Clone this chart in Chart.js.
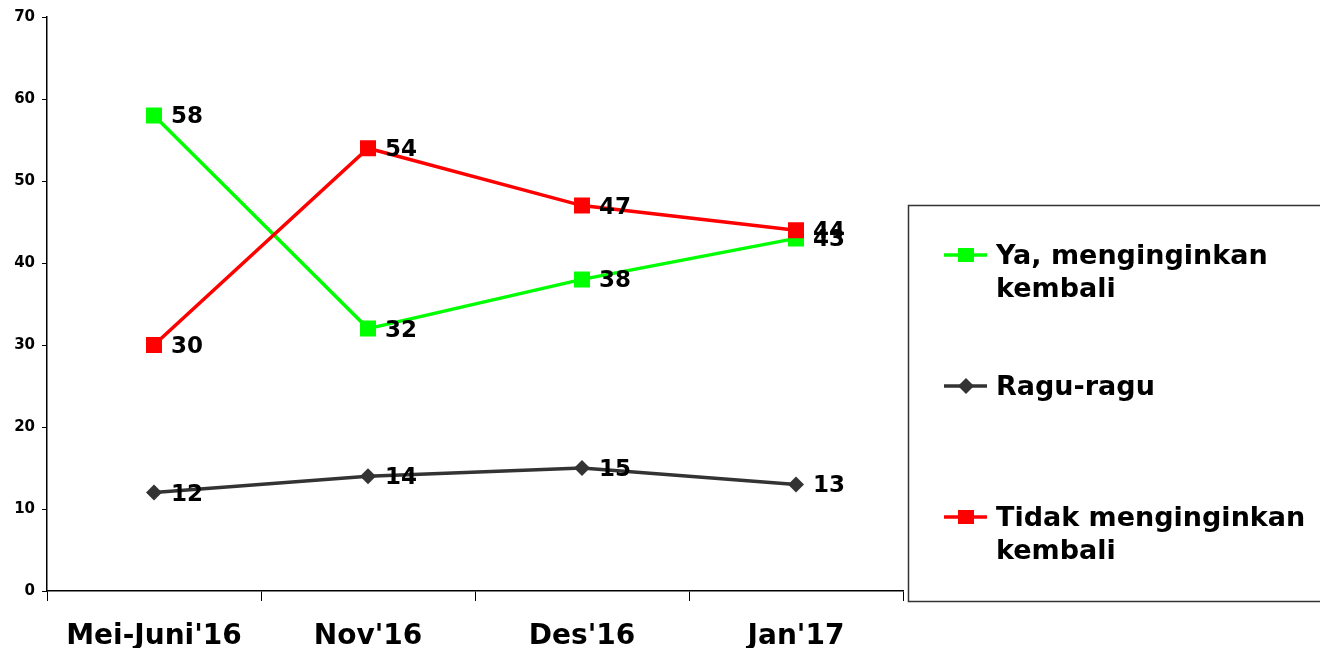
<!DOCTYPE html>
<html>
<head>
<meta charset="utf-8">
<script src="https://cdn.jsdelivr.net/npm/chart.js@4.4.1/dist/chart.umd.min.js"></script>
<style>
  html, body { margin: 0; padding: 0; background: #ffffff; }
  #wrap { width: 1320px; height: 648px; position: relative; }
</style>
</head>
<body>
<div id="wrap"><canvas id="c"></canvas></div>
<script>
// Survey periods and responses (percent)
const periods = ["Mei-Juni'16", "Nov'16", "Des'16", "Jan'17"];
const yaValues = [58, 32, 38, 43];
const raguValues = [12, 14, 15, 13];
const tidakValues = [30, 54, 47, 44];
const yTicks = [0, 10, 20, 30, 40, 50, 60, 70];

const seriesNames = [["Ya, menginginkan", "kembali"], ["Ragu-ragu"], ["Tidak menginginkan", "kembali"]];
const seriesColors = ["#00ff00", "#333333", "#ff0000"];

const FONT = "'DejaVu Sans', Verdana, sans-serif";

// Value labels to the right of each point
const valueLabels = {
  id: 'valueLabels',
  afterDatasetsDraw(chart) {
    const ctx = chart.ctx;
    ctx.save();
    ctx.font = "bold 23px " + FONT;
    ctx.fillStyle = "#000000";
    ctx.textAlign = "left";
    ctx.textBaseline = "middle";
    chart.data.datasets.forEach((ds, i) => {
      const meta = chart.getDatasetMeta(i);
      meta.data.forEach((pt, j) => {
        ctx.fillText(String(ds.data[j]), pt.x + 17, pt.y + 2);
      });
    });
    ctx.restore();
  }
};

// Boxed legend on the right side
const boxLegend = {
  id: 'boxLegend',
  afterDraw(chart) {
    const ctx = chart.ctx;
    ctx.save();
    ctx.strokeStyle = "#333333";
    ctx.lineWidth = 1.5;
    ctx.strokeRect(908.5, 205.5, 430, 396);
    const rows = [255, 386, 517];
    ctx.font = "bold 27px " + FONT;
    ctx.textAlign = "left";
    ctx.textBaseline = "middle";
    seriesNames.forEach((lines, i) => {
      const y = rows[i];
      const col = seriesColors[i];
      ctx.strokeStyle = col;
      ctx.lineWidth = 3.5;
      ctx.beginPath();
      ctx.moveTo(944, y);
      ctx.lineTo(987, y);
      ctx.stroke();
      ctx.fillStyle = col;
      if (i === 1) {
        ctx.beginPath();
        ctx.moveTo(966, y - 8);
        ctx.lineTo(974, y);
        ctx.lineTo(966, y + 8);
        ctx.lineTo(958, y);
        ctx.closePath();
        ctx.fill();
      } else {
        ctx.fillRect(958, y - 7, 16, 14);
      }
      ctx.fillStyle = "#000000";
      lines.forEach((t, k) => {
        ctx.fillText(t, 996, y + 2 + k * 33);
      });
    });
    ctx.restore();
  }
};

const mkDataset = (label, data, color, style, radius) => ({
  label: label,
  data: data,
  borderColor: color,
  backgroundColor: color,
  borderWidth: 3.5,
  pointStyle: style,
  pointRadius: radius,
  pointHoverRadius: radius,
  pointBorderWidth: 0,
  pointBackgroundColor: color,
  tension: 0,
  fill: false
});

new Chart(document.getElementById('c'), {
  type: 'line',
  data: {
    labels: periods,
    datasets: [
      mkDataset(seriesNames[2].join(' '), tidakValues, seriesColors[2], 'rect', 11.3),
      mkDataset(seriesNames[0].join(' '), yaValues, seriesColors[0], 'rect', 11.3),
      mkDataset(seriesNames[1].join(' '), raguValues, seriesColors[1], 'rectRot', 8)
    ]
  },
  options: {
    responsive: true,
    maintainAspectRatio: false,
    animation: false,
    layout: { padding: { top: 17, right: 417, left: 0, bottom: 0 } },
    plugins: {
      legend: { display: false },
      tooltip: { enabled: false }
    },
    scales: {
      x: {
        offset: true,
        grid: { display: true, drawOnChartArea: false, drawTicks: true, tickLength: 10, color: "#000000", offset: true },
        border: { display: true, color: "#000000", width: 1.5 },
        ticks: {
          color: "#000000",
          font: { family: FONT, size: 28, weight: 'bold' },
          padding: 19,
          maxRotation: 0
        },
        afterFit(scale) { scale.height = 57; }
      },
      y: {
        min: 0,
        max: 70,
        afterBuildTicks(scale) { scale.ticks = yTicks.map(v => ({ value: v })); },
        grid: { display: true, drawOnChartArea: false, drawTicks: true, tickLength: 5, color: "#000000" },
        border: { display: true, color: "#000000", width: 1.5 },
        ticks: {
          color: "#000000",
          font: { family: FONT, size: 15, weight: 'bold' },
          padding: 7
        },
        afterFit(scale) { scale.width = 47; }
      }
    }
  },
  plugins: [valueLabels, boxLegend]
});
</script>
</body>
</html>
